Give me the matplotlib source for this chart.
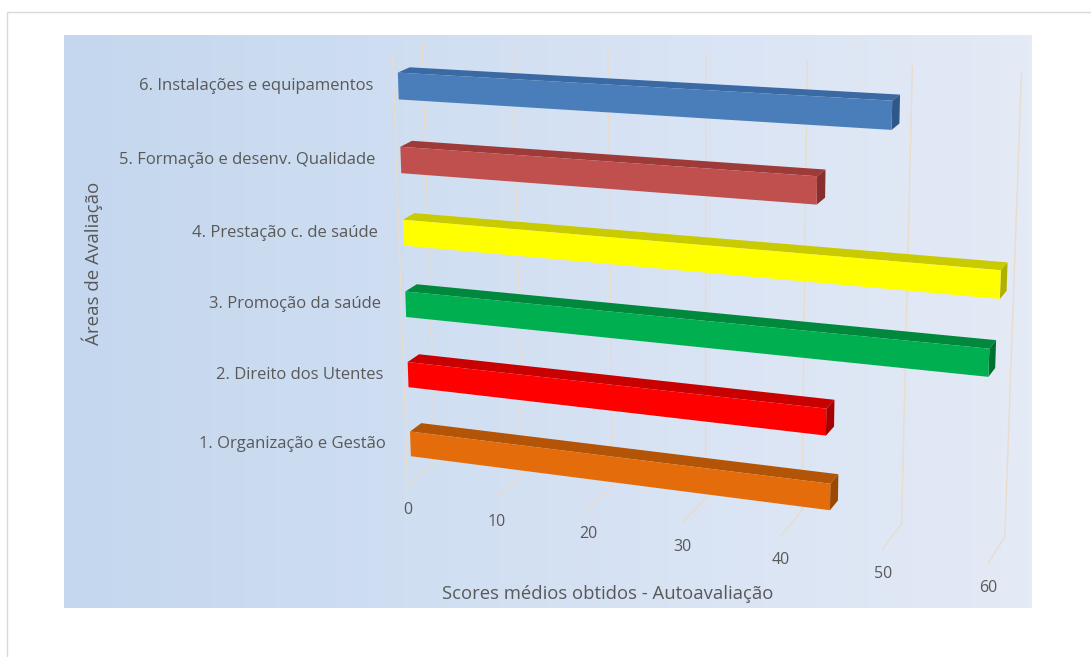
import numpy as np
import matplotlib
matplotlib.use('Agg')
import matplotlib.pyplot as plt
import matplotlib.transforms as mtransforms
from matplotlib.patches import Rectangle
from matplotlib.colors import LinearSegmentedColormap

# data (bottom to top, as in the chart)
categories = ['1. Organização e Gestão', '2. Direito dos Utentes', '3. Promoção da saúde',
              '4. Prestação c. de saúde', '5. Formação e desenv. Qualidade',
              '6. Instalações e equipamentos']
scores = [44.5, 44.0, 59.2, 60.0, 42.8, 49.7]
front_colors = ['#e46c0a', '#ff0000', '#00b050', '#ffff00', '#c0504d', '#4a7ebb']
top_colors = ['#b45406', '#c80000', '#00883c', '#caca00', '#9e3b39', '#3a69a3']
end_colors = ['#9c4805', '#a80000', '#00702f', '#b0b000', '#862f2e', '#2f5789']
xticks = [0, 10, 20, 30, 40, 50, 60]
xlabel = 'Scores médios obtidos - Autoavaliação'
ylabel = 'Áreas de Avaliação'

W, H = 1091, 657

# perspective camera (value, height, depth) -> pixel, fitted on the floor / back wall corners
cam3 = np.array([[0, 0, 0], [10, 0, 0], [20, 0, 0], [30, 0, 0], [40, 0, 0], [50, 0, 0], [60, 0, 0],
                 [0, 0, 1], [10, 0, 1], [50, 0, 1], [60, 0, 1],
                 [0, 6, 1], [50, 6, 1], [60, 6, 1]], float)
cam2 = np.array([[407, 485], [497, 497], [587, 510], [683, 522], [782, 534], [883, 548], [988, 563],
                 [435, 463], [523, 473], [901, 525], [1005, 537],
                 [422, 42], [913, 66], [1021, 72]], float)


def norm_mat(pts):
    c = pts.mean(0)
    s = np.sqrt(pts.shape[1]) / np.sqrt(((pts - c) ** 2).sum(1)).mean()
    T = np.eye(pts.shape[1] + 1)
    T[:-1, :-1] *= s
    T[:-1, -1] = -s * c
    return T


def fit_camera(p3, p2):
    U, T = norm_mat(p3), norm_mat(p2)
    q3 = (U @ np.c_[p3, np.ones(len(p3))].T).T
    q2 = (T @ np.c_[p2, np.ones(len(p2))].T).T
    rows = []
    for X, (u, v, _) in zip(q3, q2):
        rows.append(list(X) + [0] * 4 + list(-u * X))
        rows.append([0] * 4 + list(X) + list(-v * X))
    _, _, vt = np.linalg.svd(np.array(rows))
    return np.linalg.inv(T) @ vt[-1].reshape(3, 4) @ U


P = fit_camera(cam3, cam2)


class PlaneProj(mtransforms.Transform):
    """2D coords on a plane of the 3D box -> pixels"""
    input_dims = output_dims = 2

    def __init__(self, free, fixed):
        super().__init__()
        k = ({0, 1, 2} - set(free)).pop()
        self.m = np.column_stack([P[:, free[0]], P[:, free[1]], P[:, k] * fixed + P[:, 3]])

    def transform_non_affine(self, values):
        xy = np.asarray(values, float).reshape(-1, 2)
        s = np.c_[xy, np.ones(len(xy))] @ self.m.T
        return s[:, :2] / s[:, 2:3]


fig = plt.figure(figsize=(W / 100, H / 100), dpi=100)
ax = fig.add_axes([0, 0, 1, 1])
ax.set_xlim(0, W)
ax.set_ylim(H, 0)
ax.axis('off')

wall = lambda d: PlaneProj((0, 1), d) + ax.transData    # (value, height) at depth d
floor = lambda h: PlaneProj((0, 2), h) + ax.transData   # (value, depth) at height h
side = lambda v: PlaneProj((2, 1), v) + ax.transData    # (depth, height) at value v

txt = dict(color='#595959', family='Open Sans')

# frame + gradient background
ax.add_patch(Rectangle((7, 12), 1100, 700, fc='white', ec='#d9d9d9', lw=1, zorder=0))
bg = LinearSegmentedColormap.from_list('bg', ['#c4d7ee', '#d4e1f3', '#e4eaf6'])
ax.imshow(np.linspace(0, 1, 256)[None, :], extent=(64, 1032, 608, 35), cmap=bg,
          aspect='auto', zorder=1)

grid_kw = dict(color='#e8dccd', lw=1, zorder=2)
for v in xticks:
    ax.plot([v, v], [0, 6], transform=wall(1), **grid_kw)
    ax.plot([v, v], [0, 1], transform=floor(0), **grid_kw)
    ax.text(v, 0, str(v), transform=floor(0) + mtransforms.ScaledTranslation(0, -0.25, fig.dpi_scale_trans),
            ha='center', va='center', fontsize=11.5, zorder=5, **txt)
ax.plot([0, 0], [0, 6], transform=wall(0), **grid_kw)

# bars
bw, d0, dd = 0.36, 0.15, 0.4
for i, (val, name) in enumerate(zip(scores, categories)):
    hc = i + 0.55
    h0 = hc - bw / 2
    ax.add_patch(Rectangle((0, d0), val, dd, transform=floor(h0 + bw), fc=top_colors[i], ec='none', zorder=3))
    ax.add_patch(Rectangle((d0, h0), dd, bw, transform=side(val), fc=end_colors[i], ec='none', zorder=3))
    ax.add_patch(Rectangle((0, h0), val, bw, transform=wall(d0), fc=front_colors[i], ec='none', zorder=4))
    ax.text(0, hc, name, transform=wall(d0) + mtransforms.ScaledTranslation(-0.25, 0, fig.dpi_scale_trans),
            ha='right', va='center', fontsize=12, zorder=5, **txt)

ax.text(608, 594, xlabel, ha='center', va='center', fontsize=13.3, **txt)
ax.text(92, 263, ylabel, ha='center', va='center', rotation=90, fontsize=13.5, **txt)

fig.savefig('out.png', dpi=100)
